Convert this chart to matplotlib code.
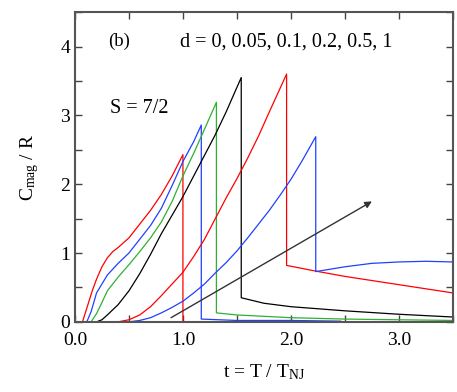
import matplotlib
matplotlib.use("Agg")
import matplotlib.pyplot as plt
from matplotlib.ticker import MultipleLocator

plt.rcParams['font.family'] = ['Liberation Serif', 'DejaVu Serif']
plt.rcParams['mathtext.default'] = 'regular'

# d = 0 (red)
t_d0 = [0.07, 0.12, 0.16, 0.20, 0.25, 0.30, 0.35, 0.40, 0.50, 0.60, 0.70, 0.80, 0.90, 1.00, 1.00, 1.00]
c_d0 = [0.00, 0.25, 0.45, 0.62, 0.80, 0.93, 1.02, 1.08, 1.22, 1.42, 1.62, 1.85, 2.12, 2.43, 0.08, 0.00]

# d = 0.05 (blue)
t_d005 = [0.11, 0.15, 0.20, 0.30, 0.40, 0.50, 0.60, 0.70, 0.80, 0.90, 1.00, 1.10, 1.17, 1.17, 1.50, 2.00, 2.46]
c_d005 = [0.00, 0.15, 0.42, 0.68, 0.85, 1.00, 1.20, 1.40, 1.65, 1.98, 2.33, 2.62, 2.86, 0.04, 0.02, 0.02, 0.01]

# d = 0.1 (green)
t_d01 = [0.15, 0.20, 0.25, 0.30, 0.40, 0.50, 0.60, 0.70, 0.80, 0.90, 1.00, 1.10, 1.20, 1.31,
         1.31, 1.50, 2.00, 2.50, 3.00, 3.50]
c_d01 = [0.00, 0.12, 0.28, 0.45, 0.65, 0.83, 1.02, 1.22, 1.45, 1.75, 2.12, 2.45, 2.80, 3.19,
         0.13, 0.10, 0.06, 0.04, 0.03, 0.02]

# d = 0.2 (black)
t_d02 = [0.20, 0.25, 0.30, 0.40, 0.50, 0.60, 0.70, 0.80, 0.90, 1.00, 1.10, 1.20, 1.30, 1.40, 1.54,
         1.54, 1.75, 2.00, 2.50, 3.00, 3.50]
c_d02 = [0.00, 0.03, 0.10, 0.25, 0.45, 0.70, 0.98, 1.28, 1.55, 1.82, 2.12, 2.42, 2.72, 3.05, 3.55,
         0.35, 0.27, 0.22, 0.16, 0.11, 0.07]

# d = 0.5 (red)
t_d05 = [0.40, 0.50, 0.60, 0.70, 0.80, 0.90, 1.00, 1.10, 1.20, 1.30, 1.40, 1.50, 1.60, 1.70, 1.80, 1.96,
         1.96, 2.22, 2.50, 3.00, 3.50]
c_d05 = [0.00, 0.03, 0.10, 0.22, 0.38, 0.55, 0.72, 0.95, 1.20, 1.50, 1.80, 2.08, 2.38, 2.70, 3.05, 3.60,
         0.82, 0.74, 0.66, 0.54, 0.42]

# d = 1 (blue)
t_d1 = [0.50, 0.60, 0.70, 0.80, 0.90, 1.00, 1.10, 1.20, 1.30, 1.40, 1.50, 1.60, 1.70, 1.80, 1.90, 2.00,
        2.10, 2.23, 2.23, 2.50, 2.75, 3.00, 3.25, 3.50]
c_d1 = [0.00, 0.02, 0.06, 0.13, 0.21, 0.30, 0.42, 0.55, 0.71, 0.86, 1.03, 1.22, 1.42, 1.62, 1.84, 2.07,
        2.33, 2.69, 0.73, 0.80, 0.85, 0.87, 0.88, 0.87]

fig = plt.figure(figsize=(4.57, 3.92), dpi=100)
ax = fig.add_axes([0.164, 0.179, 0.827, 0.790])

lw = 0.9
ax.plot(t_d0, c_d0, color='#ff0000', lw=lw)
ax.plot(t_d005, c_d005, color='#2040ff', lw=lw)
ax.plot(t_d01, c_d01, color='#30b030', lw=lw)
ax.plot(t_d02, c_d02, color='black', lw=lw)
ax.plot(t_d05, c_d05, color='#ff0000', lw=lw)
ax.plot(t_d1, c_d1, color='#2040ff', lw=lw)

ax.annotate('', xy=(2.75, 1.75), xytext=(0.89, 0.06),
            arrowprops=dict(arrowstyle='-|>', color='#333333', lw=1.0,
                            mutation_scale=10, shrinkA=0, shrinkB=0))

ax.text(0.41, 4.07, '(b)', fontsize=13.5, ha='center', va='center')
ax.text(1.96, 4.07, 'd = 0, 0.05, 0.1, 0.2, 0.5, 1', fontsize=14.5, ha='center', va='center')
ax.text(0.60, 3.1, 'S = 7/2', fontsize=14.5, ha='center', va='center')

ax.set_xlim(0, 3.5)
ax.set_ylim(0, 4.5)
ax.xaxis.set_minor_locator(MultipleLocator(0.5))
ax.yaxis.set_minor_locator(MultipleLocator(0.5))
ax.set_xticks([0, 1, 2, 3])
ax.set_xticklabels(['0.0', '1.0', '2.0', '3.0'])
ax.set_yticks([0, 1, 2, 3, 4])
ax.set_yticklabels(['0', '1', '2', '3', '4'])
ax.tick_params(which='both', direction='in', top=True, right=True, length=5,
               width=1.0, color='#444444', labelsize=14)
ax.tick_params(axis='x', pad=7)
for sp in ax.spines.values():
    sp.set_color('#555555')
    sp.set_linewidth(1.5)

ax.set_xlabel('t = T / T$_{NJ}$', fontsize=14, labelpad=10)
ax.set_ylabel('C$_{mag}$ / R', fontsize=14, labelpad=14)

fig.savefig('out.png', dpi=100)
